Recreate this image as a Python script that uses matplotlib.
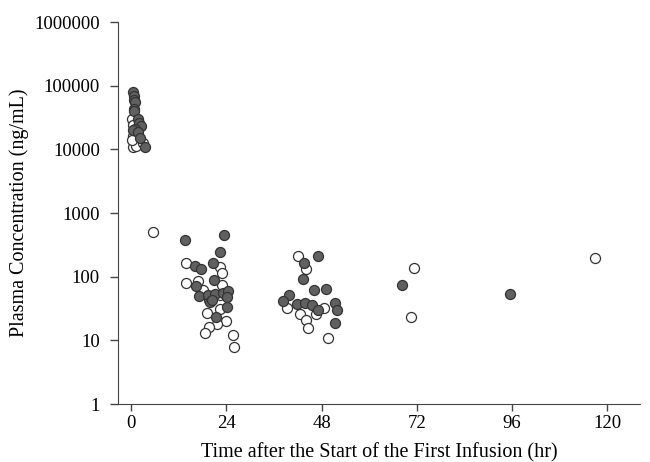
import matplotlib
matplotlib.use('Agg')
import matplotlib.pyplot as plt
import matplotlib.ticker as mticker
import numpy as np

# filled circles (group 1)
hr_filled = [0.5, 0.7, 0.8, 1.0, 0.8, 0.8, 1.75, 2.0, 2.5, 1.0, 0.5, 1.75, 2.3, 3.5,
             13.6, 23.4, 22.4, 20.6, 16.1, 17.6, 20.9, 16.3, 17.1, 19.3, 21.1, 23.1,
             24.4, 19.8, 24.1, 24.1, 21.4, 20.4,
             47.2, 43.5, 43.3, 46.2, 49.0, 39.7, 38.2, 41.7, 43.7, 45.5, 47.0, 51.5,
             51.8, 51.3, 68.3, 95.5]
conc_filled = [80000, 70000, 60000, 55000, 44000, 40000, 30000, 26000, 23500, 21000,
               20000, 19000, 15000, 11000,
               380, 455, 245, 165, 148, 133, 89, 72, 50, 52, 54, 56,
               60, 40, 48, 33, 23, 43,
               212, 165, 92, 62, 64, 52, 42, 37, 38, 36, 30, 39,
               30, 19, 74, 54]

# open circles (group 2)
hr_open = [0.3, 0.5, 0.5, 0.5, 1.2, 3.0, 0.3,
           5.5, 13.8, 22.4, 22.9, 13.8, 16.8, 22.9, 18.1, 19.1, 22.4, 23.9, 21.6,
           19.6, 18.6, 25.6, 25.9, 19.6, 22.4,
           42.0, 44.2, 39.4, 42.5, 44.2, 46.7, 48.5, 44.5, 49.5,
           71.4, 70.6, 117.0]
conc_open = [30000, 24000, 16000, 11000, 11500, 12500, 14000,
             510, 165, 142, 115, 80, 86, 74, 62, 27, 31, 20, 18,
             16, 13, 12, 7.9, 43, 51,
             212, 133, 32, 26, 21, 26, 32, 15.6, 11,
             137, 23, 198]

yticks = [1, 10, 100, 1000, 10000, 100000, 1000000]
xticks = [0, 24, 48, 72, 96, 120]

plt.rcParams['font.family'] = ['Liberation Serif', 'DejaVu Serif']

fig = plt.figure(figsize=(6.5, 4.62), dpi=100)
ax = fig.add_axes([0.1815, 0.1255, 0.8035, 0.8265])

ax.scatter(hr_open, conc_open, s=52, facecolor='white', edgecolor='#333333',
           linewidth=0.9, zorder=2)
ax.scatter(hr_filled, conc_filled, s=52, facecolor='#606060', edgecolor='#333333',
           linewidth=0.9, zorder=3)

ax.set_yscale('log')
ax.set_ylim(1, 1000000)
ax.set_xlim(-3.3, 128.3)
ax.set_yticks(yticks)
ax.yaxis.set_major_formatter(mticker.FuncFormatter(lambda v, p: '%d' % v))
ax.yaxis.set_minor_locator(mticker.NullLocator())
ax.set_xticks(xticks)

for s in ['top', 'right']:
    ax.spines[s].set_visible(False)
for s in ['left', 'bottom']:
    ax.spines[s].set_color('#444444')
ax.tick_params(direction='out', length=5, width=1, colors='#444444', labelsize=13.5,
               labelcolor='black')
ax.tick_params(axis='y', length=6, pad=7)
ax.tick_params(axis='x', pad=3)

ax.set_xlabel('Time after the Start of the First Infusion (hr)', fontsize=14.5, labelpad=8)
ax.set_ylabel('Plasma Concentration (ng/mL)', fontsize=14.5, labelpad=4)

fig.savefig('out.png', dpi=100)
